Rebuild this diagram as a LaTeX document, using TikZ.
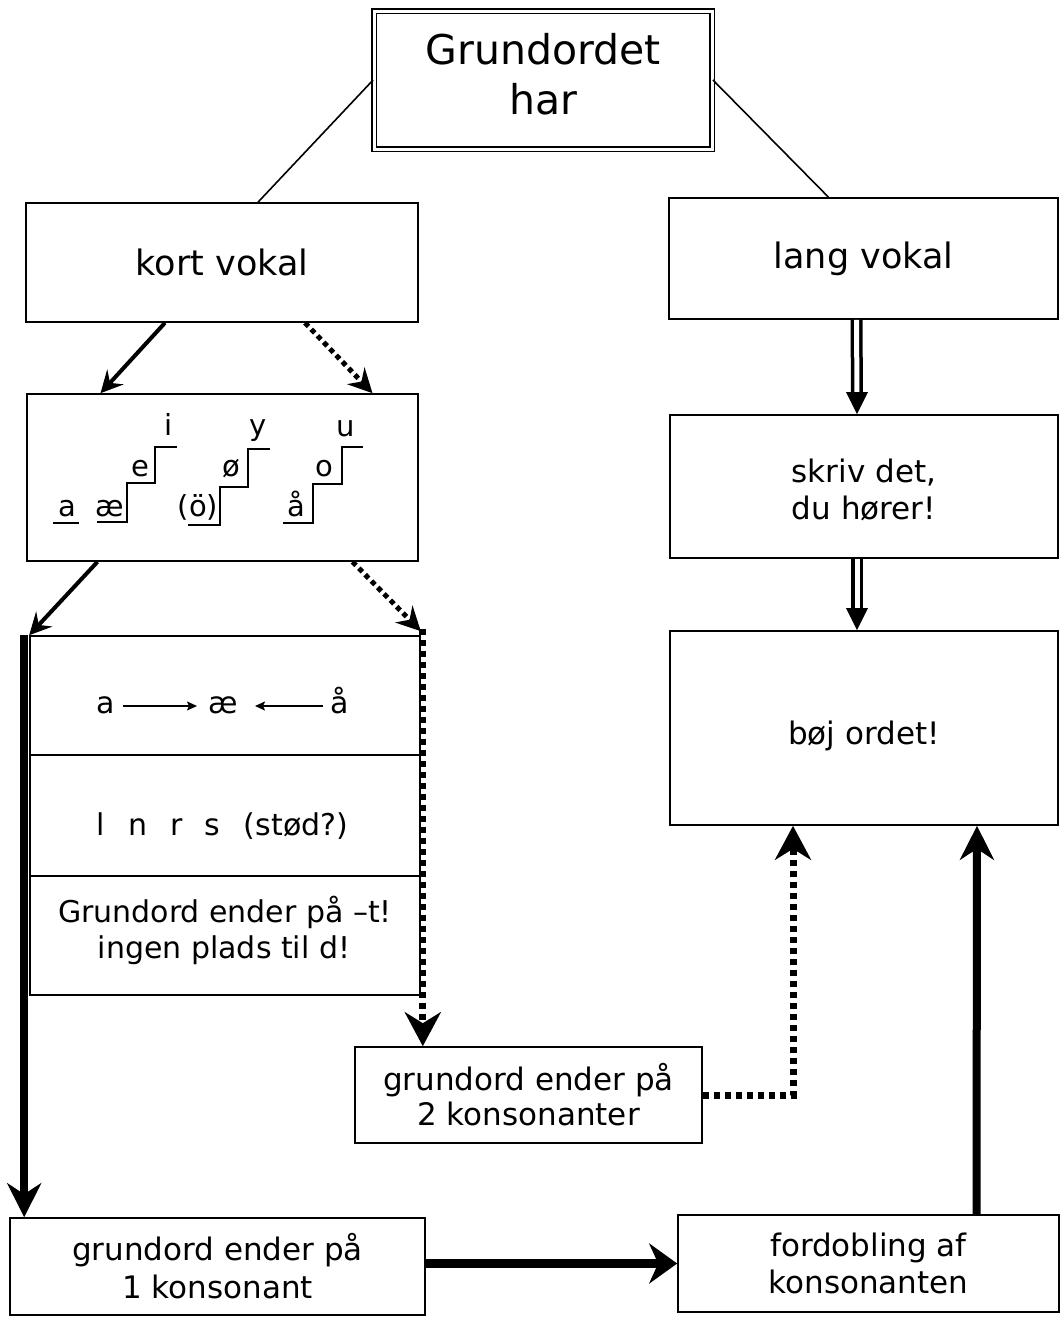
\documentclass[tikz,border=0pt]{standalone}
\usepackage{fontspec}
\setmainfont{DejaVu Sans}
\usetikzlibrary{arrows.meta,calc}

\begin{document}
\begin{tikzpicture}[x=1pt,y=-1pt,
  box/.style={draw, line width=1.6pt, inner sep=0pt, align=center,
    font=\fontsize{31}{37}\selectfont},
  lbl/.style={inner sep=0pt, anchor=base, font=\fontsize{29}{34}\selectfont},
  txt/.style={inner sep=0pt, align=center, font=\fontsize{31}{37}\selectfont},
  thinline/.style={line width=1.6pt},
  solidarr/.style={line width=4pt, -{Stealth[length=22pt,width=22pt,inset=8pt]}},
  dotarr/.style={line width=5pt, dash pattern=on 5pt off 4pt,
    -{Stealth[length=24pt,width=24pt,inset=8pt]}},
  heavyarr/.style={line width=8pt, -{Stealth[length=34pt,width=34pt,inset=11pt]}},
  heavydot/.style={line width=7pt, dash pattern=on 6pt off 5pt,
    -{Stealth[length=34pt,width=36pt,inset=11pt]}},
  smallarr/.style={line width=1.6pt, -{Stealth[length=10pt,width=9pt,inset=2pt]}},
  stair/.style={line width=1.6pt},
]
\useasboundingbox (0,0) rectangle (1061,1317);

% ---- boxes ----
\node[box, double, double distance=3pt, line width=1.8pt,
  minimum width=338pt, minimum height=138pt] (top) at (543,80) {};
\node[txt, font=\fontsize{41}{50}\selectfont] (toptext) at (543,74) {Grundordet\\har};
\node[box, minimum width=392pt, minimum height=119pt,
  font=\fontsize{35}{40}\selectfont] (kort) at (222,262.5) {kort vokal};
\node[box, minimum width=389pt, minimum height=121pt,
  font=\fontsize{35}{40}\selectfont] (lang) at (863.5,258.5) {lang vokal};
\node[box, minimum width=391pt, minimum height=167pt] (vokaler) at (222.5,477.5) {};
\node[box, minimum width=390pt, minimum height=119pt] (b1) at (225,695.5) {};
\node[box, minimum width=390pt, minimum height=121pt] (b2) at (225,815.5) {};
\node[box, minimum width=390pt, minimum height=119pt] (b3) at (225,935.5) {};
\node[box, minimum width=388pt, minimum height=143pt] (skriv) at (864,486.5) {};
\node[txt] (skrivtext) at (864,490) {skriv det,\\du hører!};
\node[box, minimum width=388pt, minimum height=194pt] (boj) at (864,728) {};
\node[txt] (bojtext) at (864,736) {bøj ordet!};
\node[box, minimum width=347pt, minimum height=96pt,
  font=\fontsize{31}{35}\selectfont] (k2) at (528.5,1095)
  {grundord ender på\\2 konsonanter};
\node[box, minimum width=415pt, minimum height=97pt,
  font=\fontsize{31}{38}\selectfont] (k1) at (217.5,1266.5)
  {grundord ender på\\1 konsonant};
\node[box, minimum width=381pt, minimum height=97pt,
  font=\fontsize{31}{37}\selectfont] (ford) at (868.5,1263.5)
  {fordobling af\\konsonanten};

% ---- vowel staircase ----
\node[lbl] (va)  at (67,516) {a};
\node[lbl] (vae) at (110,516) {æ};
\node[lbl] (ve)  at (140,476) {e};
\node[lbl] (vi)  at (169,435) {i};
\node[lbl] (voe) at (198,516) {(ö)};
\node[lbl] (vo2) at (231,476) {ø};
\node[lbl] (vy)  at (258,435) {y};
\node[lbl] (vaa) at (296,516) {å};
\node[lbl] (vo)  at (324,476) {o};
\node[lbl] (vu)  at (346,436) {u};
\draw[stair] (53,523) -- (79,523);
\draw[stair] (97,522) -- (127,522) |- (155,483) |- (177,447);
\draw[stair] (188,525) -- (220,525) |- (248,487) |- (270,449);
\draw[stair] (283,523) -- (313,523) |- (342,484) |- (363,447);

% ---- stacked rule boxes ----
\node[lbl, font=\fontsize{30}{34}\selectfont] (ra)  at (106,713) {a};
\node[lbl, font=\fontsize{30}{34}\selectfont] (rae) at (223,713) {æ};
\node[lbl, font=\fontsize{30}{34}\selectfont] (raa) at (340,713) {å};
\draw[smallarr] (123,706) -- (197,706);
\draw[smallarr] (323,706) -- (255,706);

\node[lbl, font=\fontsize{30}{34}\selectfont] (cl) at (101,835) {l};
\node[lbl, font=\fontsize{30}{34}\selectfont] (cn) at (138,835) {n};
\node[lbl, font=\fontsize{30}{34}\selectfont] (cr) at (177,835) {r};
\node[lbl, font=\fontsize{30}{34}\selectfont] (cs) at (212,835) {s};
\node[lbl, font=\fontsize{30}{34}\selectfont] (cstod) at (296,835) {(stød?)};

\node[lbl, font=\fontsize{30}{34}\selectfont] (t1) at (225,922) {Grundord ender på –t!};
\node[lbl, font=\fontsize{30}{34}\selectfont] (t2) at (224,958) {ingen plads til d!};

% ---- connectors ----
\draw[thinline] (top.west) -- ([xshift=36pt]kort.north);
\draw[thinline] (top.east) -- ([xshift=-35pt]lang.north);

\draw[solidarr] ([xshift=-57pt]kort.south) -- ([xshift=-122pt]vokaler.north);
\draw[dotarr] ([xshift=83pt]kort.south) -- ([xshift=150pt]vokaler.north);

\draw[solidarr] ([xshift=-125pt]vokaler.south) -- (b1.north west);
\draw[dotarr] ([xshift=130pt]vokaler.south) -- ([yshift=4pt]b1.north east);

\coordinate (lefttop) at ([xshift=-5pt]b1.north west);
\draw[heavyarr] (lefttop) -- (lefttop |- k1.north);
\coordinate (righttop) at ([xshift=2pt,yshift=6pt]b1.north east);
\draw[heavydot] (righttop) -- (righttop |- k2.north);

% double arrows on the right
\foreach \a/\b in {lang/skriv, skriv/boj}{
  \draw[line width=3.5pt, double=white, double distance=5pt]
    ([xshift=-7pt]\a.south) -- ([xshift=-7pt,yshift=16pt]\b.north);
  \fill ([xshift=-7pt]\b.north) -- ++(-11,-22) -- ++(22,0) -- cycle;
}

\coordinate (bend) at ([xshift=-71pt]boj.south |- k2.east);
\draw[heavydot] (k2.east) -- (bend) -- ([xshift=-71pt]boj.south);
\draw[heavyarr] ([xshift=108pt]ford.north) -- ([xshift=113pt]boj.south);
\draw[line width=9pt, -{Stealth[length=28pt,width=40pt,inset=9pt]}]
  (k1.east |- ford.west) -- (ford.west);
\end{tikzpicture}
\end{document}
